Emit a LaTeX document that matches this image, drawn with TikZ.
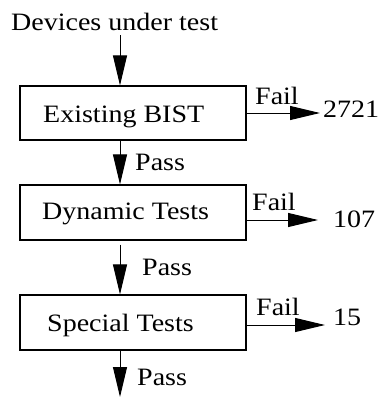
\documentclass[tikz,border=0pt]{standalone}
\usepackage{fontspec}
\setmainfont{Liberation Serif}[FakeStretch=1.12]
\usetikzlibrary{arrows.meta}
\begin{document}
\begin{tikzpicture}[x=1pt,y=-1pt,
  box/.style={draw, line width=1.1pt, inner sep=0pt, minimum width=226pt},
  lbl/.style={inner sep=0pt, anchor=base west, font=\fontsize{25}{30}\selectfont},
  arr/.style={line width=1pt, -{Triangle[length=30pt,width=14pt]}}]
\useasboundingbox (0,0) rectangle (380,397);
% boxes
\node[box, minimum height=54pt] (b1) at (133,113) {};
\node[box, minimum height=55pt] (b2) at (133,212.5) {};
\node[box, minimum height=55pt] (b3) at (133,322.5) {};
% texts
\node[lbl] (t0) at (11,30) {Devices under test};
\node[lbl] (t1) at (43,122) {Existing BIST};
\node[lbl] (t2) at (42,219) {Dynamic Tests};
\node[lbl] (t3) at (47,331) {Special Tests};
\node[lbl] (p1) at (135,170) {Pass};
\node[lbl] (p2) at (142,275) {Pass};
\node[lbl] (p3) at (137,385) {Pass};
\node[lbl] (fl1) at (255,104) {Fail};
\node[lbl] (fl2) at (252,210) {Fail};
\node[lbl] (fl3) at (256,315) {Fail};
\node[lbl] (n1) at (323,117) {2721};
\node[lbl] (n2) at (333,227) {107};
\node[lbl] (n3) at (333,325) {15};
% coordinates
\coordinate (s1) at (120,35);
\coordinate (e4) at (120,397);
\coordinate (f1) at (320,113);
\coordinate (f2) at (318,220);
\coordinate (f3) at (325,325);
% vertical arrows
\draw[arr] (s1) -- (s1 |- b1.north);
\draw[arr] (s1 |- b1.south) -- (s1 |- b2.north);
\draw[arr] ([yshift=-4pt]s1 |- b2.south) -- (s1 |- b3.north);
\draw[arr] (s1 |- b3.south) -- (e4);
% fail arrows
\draw[arr] (b1.east |- f1) -- (f1);
\draw[arr] (b2.east |- f2) -- (f2);
\draw[arr] (b3.east |- f3) -- (f3);
\end{tikzpicture}
\end{document}
